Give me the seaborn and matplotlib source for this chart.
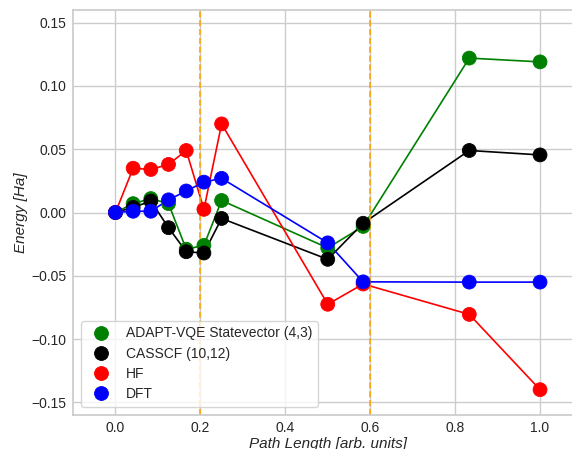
import numpy as np
import pandas as pd
import matplotlib
matplotlib.use("Agg")
import matplotlib.pyplot as plt
import seaborn as sns

path = [0.0, 1/24, 2/24, 3/24, 4/24, 5/24, 6/24, 12/24, 14/24, 20/24, 1.0]
adapt = [0.0, 0.007, 0.011, 0.007, -0.029, -0.026, 0.0095, -0.028, -0.011, 0.122, 0.119]
casscf = [0.0, 0.004, 0.009, -0.012, -0.031, -0.032, -0.0047, -0.037, -0.0085, 0.049, 0.0455]
hf = [0.0, 0.035, 0.034, 0.038, 0.049, 0.0025, 0.070, -0.0725, -0.0565, -0.0805, -0.140]
dft = [0.0, 0.001, 0.001, 0.010, 0.017, 0.024, 0.027, -0.024, -0.0548, -0.055, -0.055]
labels = ["ADAPT-VQE Statevector (4,3)", "CASSCF (10,12)", "HF", "DFT"]
colors = ["green", "black", "red", "blue"]
vlines = [0.2, 0.6]

frames = []
for lab, vals in zip(labels, [adapt, casscf, hf, dft]):
    frames.append(pd.DataFrame({"x": path, "y": vals, "method": lab}))
df = pd.concat(frames, ignore_index=True)

sns.set_theme(style="whitegrid")
plt.rcParams['font.family'] = ['Liberation Sans', 'DejaVu Sans']

fig = plt.figure(figsize=(5.72, 4.49), dpi=100)
ax = fig.add_axes([73/572, 1 - 415/449, (582.5 - 73)/572, (415 - 10)/449])

pal = dict(zip(labels, colors))
sns.lineplot(data=df, x="x", y="y", hue="method", palette=pal, ax=ax,
             legend=False, linewidth=1.2, sort=False)
sns.scatterplot(data=df, x="x", y="y", hue="method", palette=pal, ax=ax,
                s=100, linewidth=0.6, edgecolor=None, zorder=3)

for v in vlines:
    ax.axvline(v, color="orange", linestyle="--", linewidth=1.2)

ax.set_xlim(-0.1, 1.1)
ax.set_ylim(-0.16, 0.16)
ax.set_xticks([0.0, 0.2, 0.4, 0.6, 0.8, 1.0])
ax.set_yticks([-0.15, -0.10, -0.05, 0.0, 0.05, 0.10, 0.15])
ax.tick_params(axis="both", length=0, labelsize=10)
ax.tick_params(axis="x", pad=4)
ax.tick_params(axis="y", pad=5)
ax.set_xlabel("Path Length [arb. units]", style="italic", fontsize=11, labelpad=2)
ax.set_ylabel("Energy [Ha]", style="italic", fontsize=11, labelpad=2)

leg = ax.legend(loc="lower left", fontsize=10, markerscale=1.0, frameon=True,
                bbox_to_anchor=(0.0, 0.0), borderaxespad=0.6,
                handletextpad=0.8, labelspacing=0.45)
leg.set_title(None)

fig.savefig("out.png", dpi=100)
